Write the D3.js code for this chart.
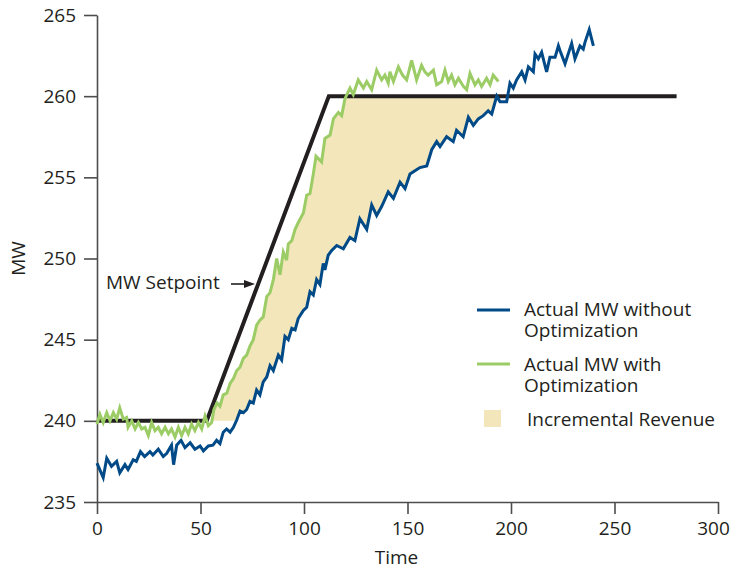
<!DOCTYPE html>
<html>
<head>
<meta charset="utf-8">
<script src="https://cdn.jsdelivr.net/npm/d3@7"></script>
<style>
  html, body { margin: 0; padding: 0; background: #fff; }
  svg { display: block; }
  text { font-family: "Open Sans", "DejaVu Sans", sans-serif; fill: #231f20; }
</style>
</head>
<body>
<svg id="chart" width="730" height="569"></svg>
<script>
// ---------- data ----------
const xTicks = [0, 50, 100, 150, 200, 250, 300];
const yTicks = [235, 240, 245, 250, 255, 260, 265];

const setpointTime = [0, 53, 112, 280];
const setpointMW   = [240, 240, 260, 260];

const blueTime = [0,3,4.7,7,9.5,11,13.5,15,17.5,19,21,23,25.6,27,29.6,32,33.7,36,37,38.5,40.6,42.5,45,47.3,49.8,51.4,53.8,56,57.8,59.4,61,
  62.6,64.3,65.9,67.5,69.1,70.7,72.3,73.9,75.5,77.1,78.7,80.3,82,83.6,85.2,87.6,89.2,90.8,92.4,94.1,95.7,97.2,99.7,101.3,102.9,104.5,106.1,107.7,109.3,110.1,111.7,113.4,
  115.8,119,122.2,124.6,127,130.3,132.7,135.1,137.5,140.7,143.2,146.4,148.8,151.2,153.6,156,159.3,161.7,164.1,165.7,168.9,172.1,173.7,176.9,179.4,181.8,184.2,186.6,189,190.7,193.1,194.7,197.9,199.5,201.1,202.7,205.2,206.8,208.4,210.8,211.6,213.2,214.8,217.2,218.8,221.3,222.9,223.7,226.1,229.3,230.9,233.3,234.9,235.7,237.8,239.8];
const blueMW = [237.4,236.5,237.7,237.2,237.5,236.8,237.3,237.0,237.6,237.5,238.1,237.8,238.1,237.9,238.25,237.8,238.0,238.5,237.3,238.5,238.8,238.35,238.65,238.25,238.45,238.15,238.45,238.5,238.8,238.6,239.3,
  239.5,239.3,239.6,240.05,240.6,240.5,240.7,241.2,241.1,241.9,241.6,242.4,242.7,243.4,243.1,244.05,243.75,245.2,245.0,245.7,245.6,246.3,246.8,247.0,247.95,247.75,248.7,248.4,249.7,249.3,250.2,250.5,
  250.8,250.6,251.3,251.1,252.45,251.8,253.3,252.65,253.2,254.1,253.7,254.7,254.3,255.2,255.4,255.6,255.7,256.7,257.2,256.9,257.5,257.2,257.9,257.5,258.7,258.2,258.6,258.8,259.1,258.9,260.0,259.65,259.65,260.8,260.5,261.0,261.5,261.0,261.8,261.5,262.6,262.3,262.7,261.5,262.4,262.4,263.1,262.8,262.0,263.25,262.3,263.1,262.9,263.3,264.1,263.1];

const greenTime = [0,1.4,3,4.7,6.3,7.9,9.5,11,12.7,14.3,15,16.8,18.4,20,21.6,23.2,24.8,26.4,28,29.6,31.2,32.9,34.5,36,37.7,39.3,40.9,42.5,44.1,45.7,47.3,49,50.6,52.2,53.8,55.4,56.5,58,59.4,61,
  62.7,64.3,65.9,67.5,69.1,70.7,72.3,73.9,75.5,77.1,78.7,80.3,82,83.6,85.2,86.8,88.4,90,91.6,92.4,94.1,95.7,97.2,99.7,101.3,102.9,104.5,105.8,
  108.5,110.1,112.6,114.2,116.6,118.2,119.8,122.2,123.8,126.2,128.7,130.3,132.7,135.1,137.5,139.1,140.7,141.5,143.2,145.6,147.6,149.6,152,154.4,156.8,158.4,160,162.5,164.1,166.5,168.1,169.7,171.3,172.9,174.6,177,178.6,180.2,182.6,184.2,185.8,188.2,189.9,191.4,193.9];
const greenMW = [239.8,240.4,239.9,240.5,240.0,240.5,240.1,240.8,240.1,240.2,239.6,240.0,239.5,239.9,239.5,239.6,239.1,239.9,239.4,239.6,239.2,239.6,239.2,239.5,239.0,239.6,239.1,239.6,239.2,239.8,239.4,239.9,239.5,240.3,239.7,239.9,240.7,241.1,240.9,241.6,
  241.7,242.3,242.6,243.1,243.3,243.85,244.05,244.6,245.0,245.9,246.2,246.4,247.65,247.9,248.7,250.0,249.0,250.4,249.9,250.9,251.1,251.8,252.2,252.8,253.9,254.0,255.2,256.3,
  255.95,257.4,257.6,258.6,259.0,258.8,259.85,260.5,260.1,261.0,260.5,260.9,260.4,261.6,261.0,261.3,260.8,261.5,260.9,261.8,261.3,261.0,262.2,261.0,261.9,261.5,261.3,261.6,260.7,260.9,261.6,260.9,261.3,260.7,261.1,260.6,260.4,261.4,260.7,261.0,260.6,261.1,260.7,261.3,260.9];

// time window where the optimized unit earns incremental revenue
const revenueWindow = [54.6, 193.1];

const legendLabels = [["Actual MW without", "Optimization"], ["Actual MW with", "Optimization"], ["Incremental Revenue"]];

// ---------- styles ----------
const colBlue = "#004a87", colGreen = "#9ccc65", colFill = "#f3e6bb", colSet = "#231f20", colAxis = "#4d4d4f";

// ---------- layout ----------
const W = 730, H = 569;
const m = { left: 97, right: 12, top: 15, bottom: 67 };
const svg = d3.select("#chart");

const x = d3.scaleLinear().domain([0, 300]).range([m.left, W - m.right]);
const y = d3.scaleLinear().domain([235, 265]).range([H - m.bottom, m.top]);

const zip = (ts, vs) => ts.map((t, i) => [t, vs[i]]);
const blue = zip(blueTime, blueMW);
const green = zip(greenTime, greenMW);
const setpoint = zip(setpointTime, setpointMW);
const spMin = d3.min(setpointMW), spMax = d3.max(setpointMW);

const line = d3.line().x(d => x(d[0])).y(d => y(d[1]));

// fill polygon: top = green clipped at setpoint max, bottom = blue clamped at setpoint min
const [w0, w1] = revenueWindow;
const upperEdge = [[w0, spMin]].concat(green.filter(d => d[0] > w0 && d[0] < w1).map(d => [d[0], Math.min(d[1], spMax)]), [[w1, spMax]]);
const lowerEdge = blue.filter(d => d[0] > w0 && d[0] < w1).map(d => [d[0], Math.max(d[1], spMin)]).reverse();
svg.append("path").attr("d", line(upperEdge.concat(lowerEdge)) + "Z").attr("fill", colFill);

// axes
const gx = svg.append("g").attr("transform", `translate(0,${y(235)})`)
  .call(d3.axisBottom(x).tickValues(xTicks).tickSize(12).tickSizeOuter(0).tickPadding(8));
const gy = svg.append("g").attr("transform", `translate(${x(0)},0)`)
  .call(d3.axisLeft(y).tickValues(yTicks).tickSize(13).tickSizeOuter(0).tickPadding(8));
[gx, gy].forEach(g => {
  g.select(".domain").attr("stroke", colAxis).attr("stroke-width", 1.6);
  g.selectAll(".tick line").attr("stroke", colAxis).attr("stroke-width", 1.6);
  g.selectAll(".tick text").attr("font-size", 19).attr("fill", "#231f20").attr("font-family", "'Open Sans', sans-serif");
});
gx.selectAll(".tick text").filter(d => d === 300).attr("dx", -5);

// setpoint and series
svg.append("path").attr("d", line(setpoint)).attr("fill", "none").attr("stroke", colSet).attr("stroke-width", 4).attr("stroke-linejoin", "miter");
svg.append("path").attr("d", line(blue)).attr("fill", "none").attr("stroke", colBlue).attr("stroke-width", 3).attr("stroke-linejoin", "miter");
svg.append("path").attr("d", line(green)).attr("fill", "none").attr("stroke", colGreen).attr("stroke-width", 3).attr("stroke-linejoin", "miter");

// axis titles
svg.append("text").attr("x", (x(0) + x(300)) / 2 - 11).attr("y", 564).attr("text-anchor", "middle").attr("font-size", 19).text("Time");
svg.append("text").attr("transform", `translate(25,${y(250)}) rotate(-90)`).attr("text-anchor", "middle").attr("font-size", 19).text("MW");

// setpoint annotation
svg.append("text").attr("x", 106).attr("y", 289).attr("font-size", 19).text("MW Setpoint");
svg.append("line").attr("x1", 231).attr("x2", 246).attr("y1", 284).attr("y2", 284).attr("stroke", colSet).attr("stroke-width", 1.6);
svg.append("path").attr("d", "M244,280 L255,284 L244,288 Z").attr("fill", colSet);

// legend
const lg = svg.append("g");
lg.append("line").attr("x1", 477).attr("x2", 510).attr("y1", 310).attr("y2", 310).attr("stroke", colBlue).attr("stroke-width", 3);
lg.append("line").attr("x1", 477).attr("x2", 510).attr("y1", 364).attr("y2", 364).attr("stroke", colGreen).attr("stroke-width", 3);
lg.append("rect").attr("x", 484).attr("y", 410).attr("width", 17).attr("height", 17).attr("fill", colFill);
const lt = [[524, 316], [524, 371], [527, 426]];
legendLabels.forEach((lines, i) => {
  const t = lg.append("text").attr("x", lt[i][0]).attr("y", lt[i][1]).attr("font-size", 19);
  lines.forEach((s, j) => {
    t.append("tspan").attr("x", lt[i][0]).attr("dy", j === 0 ? 0 : 20.5).text(s);
  });
});
</script>
</body>
</html>
